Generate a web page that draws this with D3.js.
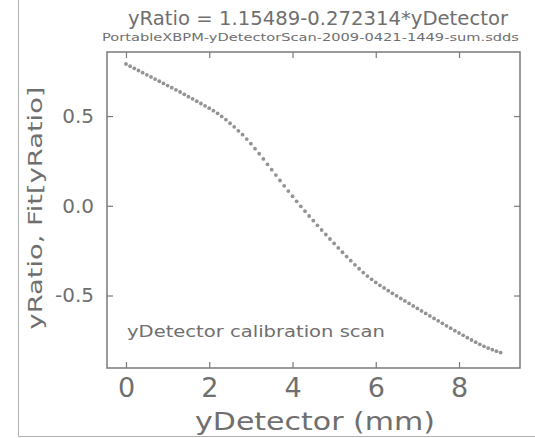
<!DOCTYPE html>
<html>
<head>
<meta charset="utf-8">
<script src="https://cdn.jsdelivr.net/npm/d3@7"></script>
<style>
  html, body { margin: 0; padding: 0; background: #fff; }
  text { font-family: "DejaVu Sans", "Liberation Sans", sans-serif; fill: #6f6f6f; }
</style>
</head>
<body>
<svg id="chart" width="535" height="438"></svg>
<script>
const titleText = "yRatio = 1.15489-0.272314*yDetector";
const subtitleText = "PortableXBPM-yDetectorScan-2009-0421-1449-sum.sdds";
const xLabel = "yDetector (mm)";
const yLabel = "yRatio, Fit[yRatio]";
const legendText = "yDetector calibration scan";
const xTicks = [0, 2, 4, 6, 8];
const yTicks = [0.5, 0.0, -0.5];
const xValues = [0.0,0.1,0.2,0.3,0.4,0.5,0.6,0.7,0.8,0.9,1.0,1.1,1.2,1.3,1.4,1.5,1.6,1.7,1.8,1.9,
  2.0,2.1,2.2,2.3,2.4,2.5,2.6,2.7,2.8,2.9,3.0,3.1,3.2,3.3,3.4,3.5,3.6,3.7,3.8,3.9,
  4.0,4.1,4.2,4.3,4.4,4.5,4.6,4.7,4.8,4.9,5.0,5.1,5.2,5.3,5.4,5.5,5.6,5.7,5.8,5.9,
  6.0,6.1,6.2,6.3,6.4,6.5,6.6,6.7,6.8,6.9,7.0,7.1,7.2,7.3,7.4,7.5,7.6,7.7,7.8,7.9,
  8.0,8.1,8.2,8.3,8.4,8.5,8.6,8.7,8.8,8.9,9.0];
const yRatio = [0.790,0.778,0.766,0.754,0.742,0.730,0.718,0.706,0.694,0.682,
  0.670,0.658,0.646,0.634,0.621,0.608,0.596,0.583,0.570,0.557,
  0.544,0.530,0.515,0.498,0.480,0.460,0.440,0.418,0.396,0.372,
  0.346,0.318,0.290,0.261,0.231,0.201,0.171,0.141,0.111,0.082,
  0.053,0.025,-0.003,-0.030,-0.057,-0.083,-0.109,-0.135,-0.160,-0.185,
  -0.210,-0.235,-0.259,-0.283,-0.306,-0.329,-0.351,-0.372,-0.392,-0.410,
  -0.427,-0.443,-0.458,-0.473,-0.488,-0.502,-0.516,-0.530,-0.544,-0.558,
  -0.572,-0.586,-0.600,-0.614,-0.628,-0.641,-0.655,-0.669,-0.682,-0.696,
  -0.709,-0.722,-0.735,-0.748,-0.760,-0.772,-0.783,-0.793,-0.802,-0.810,-0.818];

const svg = d3.select("#chart");
const L = 107, R = 520, T = 52, B = 368;
const x = d3.scaleLinear().domain([-0.456, 9.465]).range([L, R]);
const y = d3.scaleLinear().domain([0.857, -0.904]).range([T, B]);

// outer border lines (image edge)
svg.append("line").attr("x1", 18.5).attr("x2", 18.5).attr("y1", 0).attr("y2", 436.5)
  .attr("stroke", "#b0b0b0").attr("stroke-width", 1);
svg.append("line").attr("x1", 18.5).attr("x2", 535).attr("y1", 436.5).attr("y2", 436.5)
  .attr("stroke", "#b0b0b0").attr("stroke-width", 1);

const axisColor = "#7a7a7a";
function styleAxis(g) {
  g.select(".domain").remove();
  g.selectAll(".tick line").attr("stroke", axisColor).attr("stroke-width", 1.2);
}
const tl = 6;
const fmtY = d => d3.format(".1f")(d).replace("\u2212", "-");
// bottom
const gb = svg.append("g").attr("transform", `translate(0,${B})`)
  .call(d3.axisBottom(x).tickValues(xTicks).tickSize(-tl).tickPadding(10).tickFormat(d3.format("d")));
styleAxis(gb);
gb.selectAll(".tick text").attr("font-size", 27).attr("fill", "#7a7a7a")
  .attr("font-family", "DejaVu Sans, sans-serif").attr("dy", "0.71em")
  .attr("transform", "scale(1,1)");
// top
const gt = svg.append("g").attr("transform", `translate(0,${T})`)
  .call(d3.axisTop(x).tickValues(xTicks).tickSize(-tl).tickFormat(""));
styleAxis(gt);
// left
const gl = svg.append("g").attr("transform", `translate(${L},0)`)
  .call(d3.axisLeft(y).tickValues(yTicks).tickSize(-tl).tickPadding(13).tickFormat(fmtY));
styleAxis(gl);
gl.selectAll(".tick text").attr("font-size", 20).attr("fill", "#7a7a7a")
  .attr("font-family", "DejaVu Sans, sans-serif");
// right
const gr = svg.append("g").attr("transform", `translate(${R},0)`)
  .call(d3.axisRight(y).tickValues(yTicks).tickSize(-tl).tickFormat(""));
styleAxis(gr);

// frame
svg.append("rect").attr("x", L).attr("y", T).attr("width", R - L).attr("height", B - T)
  .attr("fill", "none").attr("stroke", axisColor).attr("stroke-width", 1.5);

// data points
const pts = xValues.map((v, i) => ({x: v, y: yRatio[i]}));
svg.append("g").selectAll("circle").data(pts).join("circle")
  .attr("cx", d => x(d.x)).attr("cy", d => y(d.y)).attr("r", 1.9)
  .attr("fill", "#808080").attr("fill-opacity", 0.85);

// texts
svg.append("text").attr("x", 318).attr("y", 25).attr("text-anchor", "middle")
  .attr("font-size", 19).attr("textLength", 380).attr("lengthAdjust", "spacingAndGlyphs")
  .text(titleText);
svg.append("text").attr("x", 310.5).attr("y", 40.5).attr("text-anchor", "middle")
  .attr("font-size", 10.5).attr("textLength", 417).attr("lengthAdjust", "spacingAndGlyphs")
  .text(subtitleText);
svg.append("text").attr("x", 315).attr("y", 430).attr("text-anchor", "middle")
  .attr("font-size", 25).attr("textLength", 240).attr("lengthAdjust", "spacingAndGlyphs")
  .text(xLabel);
svg.append("text").attr("transform", "translate(42,208) rotate(-90)").attr("text-anchor", "middle")
  .attr("font-size", 20).attr("textLength", 243).attr("lengthAdjust", "spacingAndGlyphs")
  .text(yLabel);
svg.append("text").attr("x", 127).attr("y", 337)
  .attr("font-size", 15).attr("textLength", 258).attr("lengthAdjust", "spacingAndGlyphs")
  .text(legendText);
</script>
</body>
</html>
